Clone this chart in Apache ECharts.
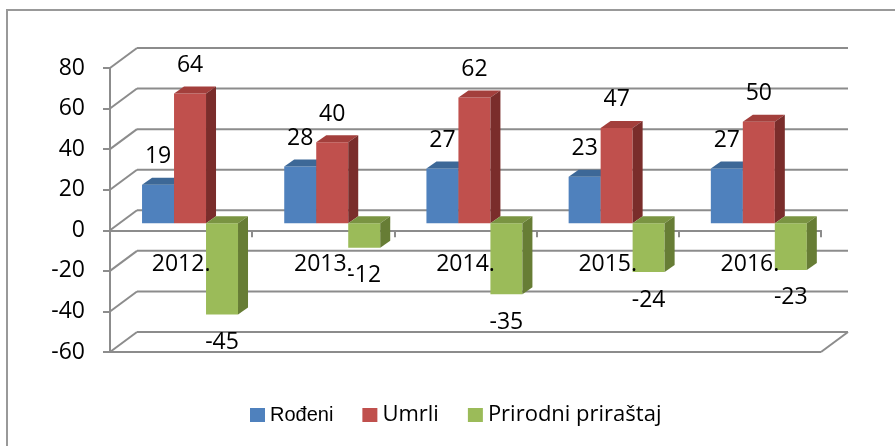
<!DOCTYPE html>
<html>
<head>
<meta charset="utf-8">
<script src="https://cdn.jsdelivr.net/npm/echarts@6/dist/echarts.min.js"></script>
<style>
  html, body { margin: 0; padding: 0; background: #fff; }
  #chart { width: 895px; height: 446px; }
</style>
</head>
<body>
<div id="chart"></div>
<script>
const categories = ["2012.", "2013.", "2014.", "2015.", "2016."];
const rodjeni = [19, 28, 27, 23, 27];
const umrli = [64, 40, 62, 47, 50];
const prirastaj = [-45, -12, -35, -24, -23];
const yTicks = [80, 60, 40, 20, 0, -20, -40, -60];

const GRID = "#8c8c8c";
const FONT = "Open Sans";
// depth offsets for the fake 3d look
const DX = 27, DY = -20;   // back wall
const FX = 9, FY = -7;     // front face of bars
const SX = 10, SY = -7;    // bar depth

const colors = [
  { front: "#4F81BD", top: "#3D6897", side: "#375E8C" },
  { front: "#C0504D", top: "#A33F3C", side: "#7A2D2B" },
  { front: "#9BBB59", top: "#7A9442", side: "#677D35" }
];

const chart = echarts.init(document.getElementById("chart"));

function wallRender(params, api) {
  const v = api.value(1);
  const y = api.coord([0, v])[1];
  const x0 = params.coordSys.x, x1 = x0 + params.coordSys.width;
  const st = { stroke: GRID, lineWidth: 2, fill: null };
  const ch = [
    { type: "line", shape: { x1: x0, y1: y, x2: x0 + DX, y2: y + DY }, style: st },
    { type: "line", shape: { x1: x0 + DX, y1: y + DY, x2: x1 + DX, y2: y + DY }, style: st }
  ];
  if (v === yTicks[yTicks.length - 1]) {
    ch.push({ type: "line", shape: { x1: x0, y1: y, x2: x1, y2: y }, style: st });
    ch.push({ type: "line", shape: { x1: x1, y1: y, x2: x1 + DX, y2: y + DY }, style: st });
  }
  return { type: "group", children: ch };
}

// category names sit just under the zero line
function catRender(params, api) {
  const p = api.coord([api.value(0), 0]);
  return {
    type: "text",
    style: {
      x: p[0], y: p[1] + 34,
      text: categories[params.dataIndex], align: "center", verticalAlign: "middle",
      fill: "#000", font: "23px '" + FONT + "'"
    }
  };
}

function barRender(s) {
  return function (params, api) {
    const i = api.value(0), v = api.value(1);
    const bw = api.size([1, 0])[0];
    const c = api.coord([i, 0]);
    const yv = api.coord([i, v])[1];
    const w = bw * 0.225;
    const x = c[0] - bw / 2 + bw * 0.162 + s * w + FX;
    const top = Math.min(c[1], yv) + FY;
    const bot = Math.max(c[1], yv) + FY;
    const col = colors[s];
    return {
      type: "group",
      children: [
        { type: "rect", shape: { x: x, y: top, width: w, height: bot - top }, style: { fill: col.front } },
        { type: "polygon", shape: { points: [[x, top], [x + w, top], [x + w + SX, top + SY], [x + SX, top + SY]] }, style: { fill: col.top } },
        { type: "polygon", shape: { points: [[x + w, top], [x + w + SX, top + SY], [x + w + SX, bot + SY], [x + w, bot]] }, style: { fill: col.side } },
        {
          type: "text",
          style: {
            x: x + w / 2, y: v >= 0 ? top - 28 : bot + 28,
            text: String(v), align: "center", verticalAlign: "middle",
            fill: "#000", font: "23px '" + FONT + "'"
          }
        }
      ]
    };
  };
}

function barSeries(name, arr, s) {
  return {
    name: name,
    type: "custom",
    renderItem: barRender(s),
    itemStyle: { color: colors[s].front },
    encode: { x: 0, y: 1 },
    data: arr.map((v, i) => [i, v]),
    z: 3
  };
}

chart.setOption({
  animation: false,
  graphic: [{
    type: "rect",
    shape: { x: 7, y: 10, width: 900, height: 450 },
    style: { fill: "none", stroke: "#999", lineWidth: 2 },
    z: -1
  }],
  grid: { left: 110, right: 74, top: 68, bottom: 94 },
  xAxis: {
    type: "category",
    data: categories,
    axisLine: { onZero: true, lineStyle: { color: GRID, width: 2 } },
    axisTick: { show: true, length: 7, lineStyle: { color: GRID, width: 2 } },
    axisLabel: { show: false },
    splitLine: { show: false }
  },
  yAxis: {
    type: "value",
    min: -60,
    max: 80,
    interval: 20,
    axisLine: { show: true, lineStyle: { color: GRID, width: 2 } },
    axisTick: { show: true, length: 7, lineStyle: { color: GRID, width: 2 } },
    axisLabel: { color: "#000", fontSize: 23, fontFamily: FONT, margin: 25 },
    splitLine: { show: false }
  },
  legend: {
    left: 245,
    top: 399,
    icon: "rect",
    itemWidth: 15,
    itemHeight: 14,
    itemGap: 29,
    textStyle: { color: "#000", fontSize: 22, fontFamily: FONT },
    data: [
      { name: "Rođeni", textStyle: { fontFamily: "Liberation Sans", fontSize: 20 } },
      { name: "Umrli" },
      { name: "Prirodni priraštaj" }
    ]
  },
  series: [
    {
      name: "wall",
      type: "custom",
      renderItem: wallRender,
      encode: { x: 0, y: 1 },
      data: yTicks.map(v => [0, v]),
      silent: true,
      z: 1
    },
    barSeries("Rođeni", rodjeni, 0),
    barSeries("Umrli", umrli, 1),
    barSeries("Prirodni priraštaj", prirastaj, 2),
    {
      name: "categories",
      type: "custom",
      renderItem: catRender,
      encode: { x: 0, y: 1 },
      data: categories.map((c, i) => [i, 0]),
      silent: true,
      z: 5
    }
  ]
});
</script>
</body>
</html>
